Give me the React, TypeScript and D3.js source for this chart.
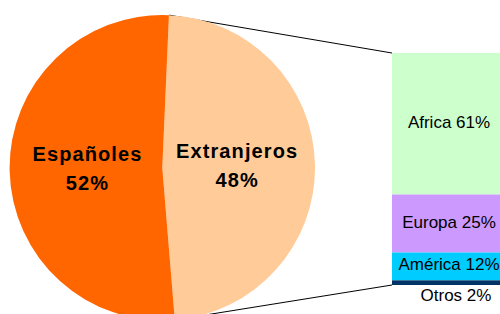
import React, { useEffect, useRef } from 'react';
import * as d3 from 'd3';

const pieNames = ['Extranjeros', 'Españoles'];
const pieValues = [48, 52];
const pieColors = ['#FFCC99', '#FF6600'];

const barNames = ['Africa', 'Europa', 'América', 'Otros'];
const barValues = [61, 25, 12, 2];
const barColors = ['#CCFFCC', '#CC99FF', '#00CCFF', '#003366'];

export default function App() {
  const svgRef = useRef<SVGSVGElement>(null);

  useEffect(() => {
    if (!svgRef.current) return;
    const svg = d3.select(svgRef.current);
    svg.selectAll('*').remove();

    const width = 500;
    const height = 314;
    const cx = 162.3;
    const cy = 167.7;
    const r = 152.7;
    const startDeg = 2.5;

    const pieData = pieNames.map((n, i) => ({ name: n, value: pieValues[i], color: pieColors[i] }));
    const pie = d3.pie<any>().sort(null).value(d => d.value)
      .startAngle(startDeg * Math.PI / 180)
      .endAngle(startDeg * Math.PI / 180 + 2 * Math.PI);
    const arcs = pie(pieData);
    const arc = d3.arc<any>().innerRadius(0).outerRadius(r);
    const labelArc = d3.arc<any>().innerRadius(r * 0.49).outerRadius(r * 0.49);

    // bar of the broken-down slice
    const barX = 392;
    const barW = 114;
    const y = d3.scaleLinear().domain([0, 100]).range([53, 285]);
    let acc = 0;
    const segs = barNames.map((n, i) => {
      const s = { name: n, value: barValues[i], color: barColors[i], y0: acc, y1: acc + barValues[i] };
      acc += barValues[i];
      return s;
    });

    // connector lines (drawn behind the pie)
    const ext = arcs[0];
    const pt = (a: number) => [cx + r * Math.sin(a), cy - r * Math.cos(a)];
    const [tx, ty] = pt(ext.startAngle);
    const [bx, by] = pt(ext.endAngle);
    svg.append('line').attr('x1', tx).attr('y1', ty).attr('x2', barX).attr('y2', y(0))
      .attr('stroke', '#000').attr('stroke-width', 1);
    svg.append('line').attr('x1', bx).attr('y1', by).attr('x2', barX).attr('y2', y(100))
      .attr('stroke', '#000').attr('stroke-width', 1);

    const g = svg.append('g').attr('transform', `translate(${cx},${cy})`);
    g.selectAll('path').data(arcs).enter().append('path')
      .attr('d', arc as any)
      .attr('fill', d => d.data.color);

    const lbl = g.selectAll('.plabel').data(arcs).enter().append('text')
      .attr('class', 'plabel')
      .attr('text-anchor', 'middle')
      .attr('font-family', 'Liberation Sans, Arial, sans-serif')
      .attr('font-weight', 'bold')
      .attr('font-size', '20px')
      .attr('letter-spacing', '1.1px')
      .attr('fill', '#000')
      .attr('transform', d => {
        const [x, yy] = labelArc.centroid(d);
        return `translate(${x},${yy})`;
      });
    lbl.append('tspan').attr('x', 0).attr('y', -8).text(d => d.data.name);
    lbl.append('tspan').attr('x', 0).attr('y', 21).text(d => `${d.data.value}%`);

    svg.selectAll('.seg').data(segs).enter().append('rect')
      .attr('class', 'seg')
      .attr('x', barX)
      .attr('y', d => y(d.y0))
      .attr('width', barW)
      .attr('height', d => y(d.y1) - y(d.y0))
      .attr('fill', d => d.color);

    svg.selectAll('.slabel').data(segs).enter().append('text')
      .attr('class', 'slabel')
      .attr('x', d => d.value < 5 ? barX + barW / 2 + 7 : barX + barW / 2)
      .attr('y', d => d.value < 5 ? y(d.y1) + 16 : (y(d.y0) + y(d.y1)) / 2 + 4)
      .attr('text-anchor', 'middle')
      .attr('font-family', 'Liberation Sans, Arial, sans-serif')
      .attr('font-size', '17px')
      .attr('fill', '#000')
      .text(d => `${d.name} ${d.value}%`);
  }, []);

  return (
    <svg ref={svgRef} width={500} height={314} viewBox="0 0 500 314"
      style={{ position: 'absolute', left: 0, top: 0, background: '#fff' }} />
  );
}
